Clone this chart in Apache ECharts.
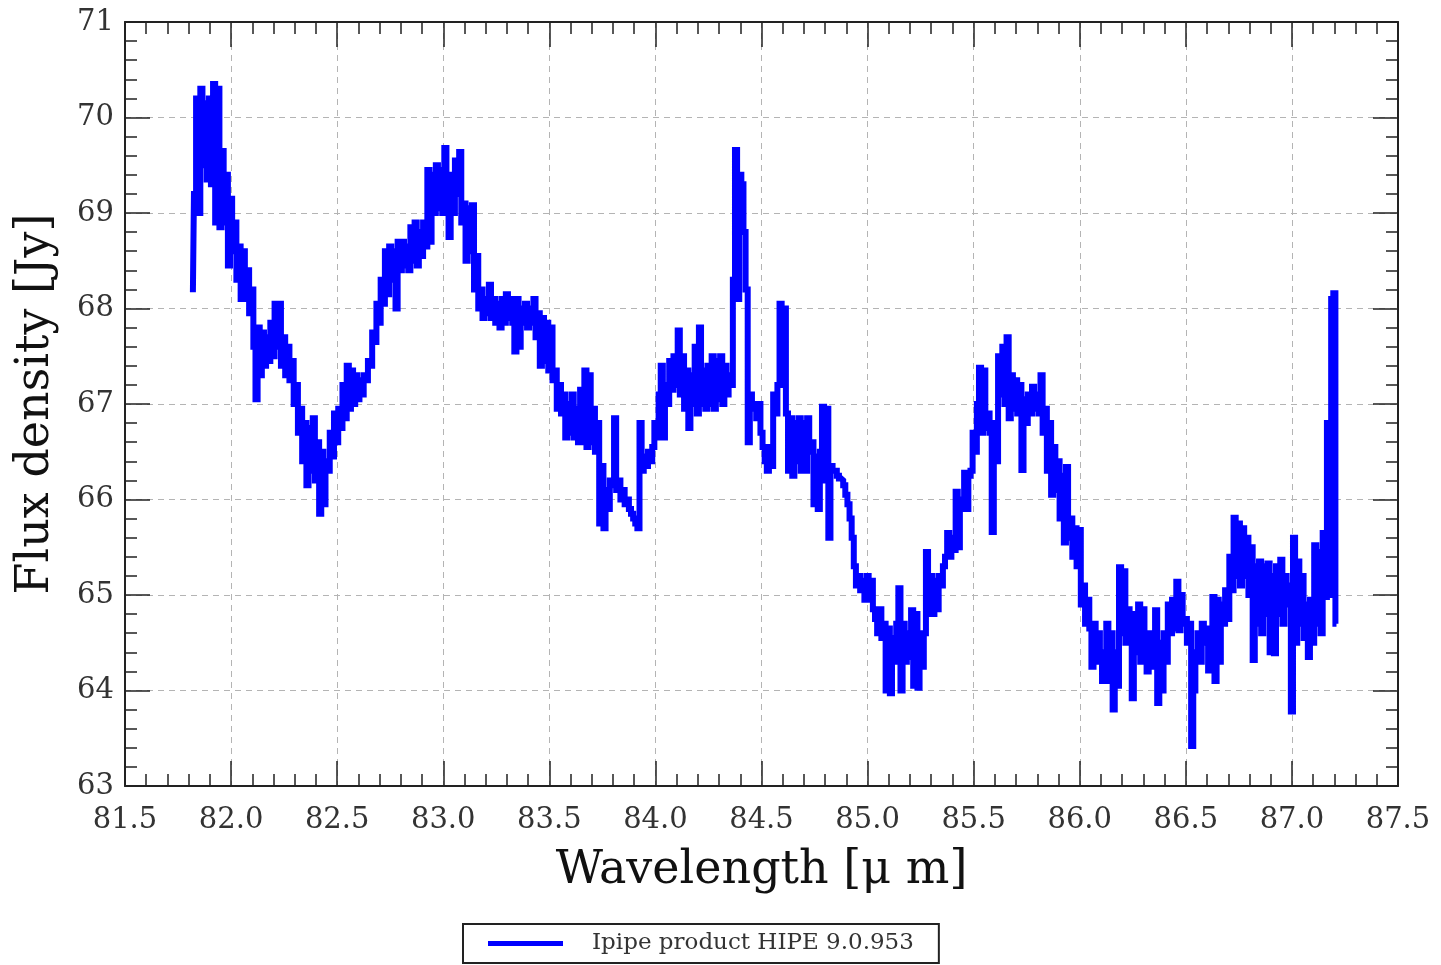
<!DOCTYPE html>
<html>
<head>
<meta charset="utf-8">
<script src="https://cdn.jsdelivr.net/npm/echarts@6/dist/echarts.min.js"></script>
<style>
html,body{margin:0;padding:0;background:#fff;}
#chart{width:1441px;height:965px;}
</style>
</head>
<body>
<div id="chart"></div>
<script>
// ---- data ----
const xTicks = [81.5, 82.0, 82.5, 83.0, 83.5, 84.0, 84.5, 85.0, 85.5, 86.0, 86.5, 87.0, 87.5];
const yTicks = [63, 64, 65, 66, 67, 68, 69, 70, 71];
const seriesName = 'Ipipe product HIPE 9.0.953';

const wavelength = [
81.82,81.83,81.84,81.85,81.86,81.87,81.88,81.89,81.90,81.91,
81.92,81.93,81.94,81.95,81.96,81.97,81.98,81.99,82.00,82.01,
82.02,82.03,82.04,82.05,82.06,82.07,82.08,82.09,82.10,82.11,
82.12,82.13,82.14,82.15,82.16,82.17,82.18,82.19,82.20,82.21,
82.22,82.23,82.24,82.25,82.26,82.27,82.28,82.29,82.30,82.31,
82.32,82.33,82.34,82.35,82.36,82.37,82.38,82.39,82.40,82.41,
82.42,82.43,82.44,82.45,82.46,82.47,82.48,82.49,82.50,82.51,
82.52,82.53,82.54,82.55,82.56,82.57,82.58,82.59,82.60,82.61,
82.62,82.63,82.64,82.65,82.66,82.67,82.68,82.69,82.70,82.71,
82.72,82.73,82.74,82.75,82.76,82.77,82.78,82.79,82.80,82.81,
82.82,82.83,82.84,82.85,82.86,82.87,82.88,82.89,82.90,82.91,
82.92,82.93,82.94,82.95,82.96,82.97,82.98,82.99,83.00,83.01,
83.02,83.03,83.04,83.05,83.06,83.07,83.08,83.09,83.10,83.11,
83.12,83.13,83.14,83.15,83.16,83.17,83.18,83.19,83.20,83.21,
83.22,83.23,83.24,83.25,83.26,83.27,83.28,83.29,83.30,83.31,
83.32,83.33,83.34,83.35,83.36,83.37,83.38,83.39,83.40,83.41,
83.42,83.43,83.44,83.45,83.46,83.47,83.48,83.49,83.50,83.51,
83.52,83.53,83.54,83.55,83.56,83.57,83.58,83.59,83.60,83.61,
83.62,83.63,83.64,83.65,83.66,83.67,83.68,83.69,83.70,83.71,
83.72,83.73,83.74,83.75,83.76,83.77,83.78,83.79,83.80,83.81,
83.82,83.83,83.84,83.85,83.86,83.87,83.88,83.89,83.90,83.91,
83.92,83.93,83.94,83.95,83.96,83.97,83.98,83.99,84.00,84.01,
84.02,84.03,84.04,84.05,84.06,84.07,84.08,84.09,84.10,84.11,
84.12,84.13,84.14,84.15,84.16,84.17,84.18,84.19,84.20,84.21,
84.22,84.23,84.24,84.25,84.26,84.27,84.28,84.29,84.30,84.31,
84.32,84.33,84.34,84.35,84.36,84.37,84.38,84.39,84.40,84.41,
84.42,84.43,84.44,84.45,84.46,84.47,84.48,84.49,84.50,84.51,
84.52,84.53,84.54,84.55,84.56,84.57,84.58,84.59,84.60,84.61,
84.62,84.63,84.64,84.65,84.66,84.67,84.68,84.69,84.70,84.71,
84.72,84.73,84.74,84.75,84.76,84.77,84.78,84.79,84.80,84.81,
84.82,84.83,84.84,84.85,84.86,84.87,84.88,84.89,84.90,84.91,
84.92,84.93,84.94,84.95,84.96,84.97,84.98,84.99,85.00,85.01,
85.02,85.03,85.04,85.05,85.06,85.07,85.08,85.09,85.10,85.11,
85.12,85.13,85.14,85.15,85.16,85.17,85.18,85.19,85.20,85.21,
85.22,85.23,85.24,85.25,85.26,85.27,85.28,85.29,85.30,85.31,
85.32,85.33,85.34,85.35,85.36,85.37,85.38,85.39,85.40,85.41,
85.42,85.43,85.44,85.45,85.46,85.47,85.48,85.49,85.50,85.51,
85.52,85.53,85.54,85.55,85.56,85.57,85.58,85.59,85.60,85.61,
85.62,85.63,85.64,85.65,85.66,85.67,85.68,85.69,85.70,85.71,
85.72,85.73,85.74,85.75,85.76,85.77,85.78,85.79,85.80,85.81,
85.82,85.83,85.84,85.85,85.86,85.87,85.88,85.89,85.90,85.91,
85.92,85.93,85.94,85.95,85.96,85.97,85.98,85.99,86.00,86.01,
86.02,86.03,86.04,86.05,86.06,86.07,86.08,86.09,86.10,86.11,
86.12,86.13,86.14,86.15,86.16,86.17,86.18,86.19,86.20,86.21,
86.22,86.23,86.24,86.25,86.26,86.27,86.28,86.29,86.30,86.31,
86.32,86.33,86.34,86.35,86.36,86.37,86.38,86.39,86.40,86.41,
86.42,86.43,86.44,86.45,86.46,86.47,86.48,86.49,86.50,86.51,
86.52,86.53,86.54,86.55,86.56,86.57,86.58,86.59,86.60,86.61,
86.62,86.63,86.64,86.65,86.66,86.67,86.68,86.69,86.70,86.71,
86.72,86.73,86.74,86.75,86.76,86.77,86.78,86.79,86.80,86.81,
86.82,86.83,86.84,86.85,86.86,86.87,86.88,86.89,86.90,86.91,
86.92,86.93,86.94,86.95,86.96,86.97,86.98,86.99,87.00,87.01,
87.02,87.03,87.04,87.05,87.06,87.07,87.08,87.09,87.10,87.11,
87.12,87.13,87.14,87.15,87.16,87.17,87.18,87.19,87.20,87.21
];

const flux = [
68.17,69.2,70.2,69.0,70.3,69.5,70.15,69.35,70.2,69.3,
70.35,68.9,70.3,68.85,69.65,68.9,69.4,68.45,69.15,68.6,
68.9,68.3,68.65,68.1,68.6,68.1,68.4,67.95,68.2,67.6,
67.05,67.8,67.3,67.75,67.4,67.7,67.45,67.85,67.5,68.05,
67.6,68.05,67.4,67.7,67.3,67.6,67.25,67.45,67.0,67.2,
66.7,66.95,66.4,66.8,66.15,66.75,66.3,66.85,66.2,66.6,
65.85,66.5,65.95,66.4,66.3,66.7,66.45,66.9,66.6,66.95,
66.75,67.2,66.85,67.4,66.95,67.35,67.0,67.3,67.05,67.25,
67.1,67.3,67.25,67.45,67.4,67.75,67.65,68.05,67.85,68.3,
68.05,68.6,68.15,68.65,68.3,68.6,68.0,68.7,68.4,68.7,
68.45,68.65,68.4,68.85,68.5,68.9,68.45,68.8,68.55,68.9,
68.65,69.45,68.7,69.4,69.0,69.5,69.05,69.45,69.0,69.68,
69.1,68.75,69.4,69.0,69.55,69.2,69.64,68.9,69.1,68.5,
69.05,68.6,69.08,68.2,68.55,68.0,68.2,67.9,68.1,67.95,
68.25,67.9,68.1,67.85,68.05,67.8,68.1,67.85,68.15,67.9,
68.1,67.85,67.55,68.1,67.6,68.0,67.85,68.05,67.8,68.0,
67.85,68.1,67.7,67.95,67.4,67.9,67.45,67.85,67.35,67.8,
67.25,67.35,66.95,67.2,66.9,67.1,66.65,67.0,66.7,67.1,
66.65,66.95,66.6,67.15,66.6,67.35,66.55,67.3,66.6,66.95,
66.5,66.8,65.75,66.35,65.7,66.1,65.9,66.2,66.15,66.85,
66.1,66.2,66.0,66.1,65.95,66.0,65.9,65.85,65.8,65.75,
65.7,66.8,66.3,66.45,66.35,66.5,66.4,66.55,66.8,66.65,
67.1,67.4,66.65,67.2,67.0,67.45,67.15,67.5,67.2,67.77,
67.1,67.5,66.95,67.35,66.75,67.3,67.0,67.6,66.9,67.8,
67.0,67.35,66.95,67.4,67.0,67.5,66.95,67.45,67.05,67.5,
67.0,67.4,67.1,67.3,67.2,68.3,69.66,68.1,69.4,69.3,
68.8,68.2,66.6,67.1,66.95,67.0,66.85,67.0,66.7,66.55,
66.4,66.3,66.55,66.35,67.1,66.9,67.2,68.05,67.2,68.0,
66.9,66.3,66.85,66.25,66.8,66.4,66.85,66.3,66.8,66.3,
66.85,66.5,66.6,65.95,66.45,65.9,66.5,66.97,66.2,66.95,
65.6,66.35,66.3,66.3,66.25,66.22,66.2,66.15,66.05,65.95,
65.8,65.6,65.3,65.1,65.2,65.05,65.15,64.95,65.2,64.95,
65.15,64.85,64.75,64.6,64.85,64.55,64.7,64.0,64.65,63.97,
64.55,64.3,64.7,65.07,64.0,64.7,64.3,64.6,64.35,64.84,
64.05,64.8,64.03,64.6,64.25,64.6,65.45,64.8,65.2,64.8,
65.15,64.85,65.2,65.1,65.3,65.4,65.65,65.4,65.6,65.47,
66.08,65.5,66.0,65.9,66.28,65.9,66.25,66.3,66.7,66.5,
67.0,67.38,66.7,67.35,66.75,66.9,66.7,65.66,66.8,66.4,
67.5,67.1,67.6,67.0,67.7,66.85,67.3,66.95,67.25,66.9,
67.2,66.31,67.05,66.8,67.1,66.9,67.18,66.95,67.1,66.9,
67.3,66.7,66.95,66.3,66.8,66.05,66.55,66.1,66.4,65.8,
66.25,65.55,66.34,65.6,65.8,65.4,65.7,65.3,65.68,64.9,
65.1,64.7,64.95,64.65,64.25,64.7,64.3,64.6,64.4,64.1,
64.35,64.7,64.1,64.6,63.8,64.4,64.05,65.29,64.6,65.25,
64.5,64.85,64.5,63.92,64.8,64.4,64.9,64.3,64.85,64.5,
64.2,64.6,64.25,64.55,64.84,63.87,64.5,64.0,64.6,64.3,
64.9,64.6,64.95,64.65,65.14,64.63,65.0,64.7,64.75,64.5,
64.7,63.42,64.0,64.4,64.6,64.3,64.7,64.5,64.65,64.21,
64.6,64.98,64.1,64.95,64.3,64.9,64.7,65.05,64.75,65.4,
65.05,65.81,65.2,65.75,65.1,65.7,65.2,65.6,65.0,65.5,
64.32,65.3,64.7,65.35,64.6,65.3,64.8,65.33,64.4,65.2,
64.39,65.3,64.8,65.37,64.7,65.2,64.9,65.1,63.78,65.6,
64.5,65.35,64.7,65.2,64.55,64.9,64.35,64.95,64.5,65.52,
64.7,65.45,64.6,65.65,64.98,66.8,65.0,68.1,68.16,64.7
];

// ---- chart ----
const FONT = 'DejaVu Serif';
const tickColor = '#222';
const chart = echarts.init(document.getElementById('chart'), null, {renderer: 'canvas'});
const pairs = wavelength.map((w, i) => [w, flux[i]]);

const baseX = {
  type: 'value', min: xTicks[0], max: xTicks[xTicks.length - 1], interval: 0.5,
  axisLine: {show: true, onZero: false, lineStyle: {color: '#222', width: 2}},
  axisTick: {show: true, inside: true, length: 25, lineStyle: {color: tickColor, width: 1.5}},
  minorTick: {show: true, splitNumber: 5, length: 12, lineStyle: {color: tickColor, width: 1.5}},
};
const baseY = {
  type: 'value', min: yTicks[0], max: yTicks[yTicks.length - 1], interval: 1,
  axisLine: {show: true, onZero: false, lineStyle: {color: '#222', width: 2}},
  axisTick: {show: true, inside: true, length: 25, lineStyle: {color: tickColor, width: 1.5}},
  minorTick: {show: true, splitNumber: 5, length: 12, lineStyle: {color: tickColor, width: 1.5}},
};
const gridLine = {show: true, lineStyle: {color: '#b4b4b4', width: 1, type: [6, 5]}};

chart.setOption({
  animation: false,
  backgroundColor: '#fff',
  grid: {left: 125, right: 43, top: 22, bottom: 179, containLabel: false},
  xAxis: [
    Object.assign({}, baseX, {
      position: 'bottom',
      name: 'Wavelength [\u03bc m]', nameLocation: 'middle', nameGap: 62,
      nameTextStyle: {fontFamily: FONT, fontSize: 46, color: '#111'},
      axisLabel: {show: true, margin: 20, fontFamily: FONT, fontSize: 29, color: '#333',
                  formatter: v => v.toFixed(1)},
      splitLine: gridLine
    }),
    Object.assign({}, baseX, {position: 'top', axisLabel: {show: false}, splitLine: {show: false}})
  ],
  yAxis: [
    Object.assign({}, baseY, {
      position: 'left',
      name: 'Flux density [Jy]', nameLocation: 'middle', nameGap: 66,
      nameTextStyle: {fontFamily: FONT, fontSize: 46, color: '#111'},
      axisLabel: {show: true, margin: 11, fontFamily: FONT, fontSize: 29, color: '#333',
                  formatter: v => String(v)},
      splitLine: gridLine
    }),
    Object.assign({}, baseY, {position: 'right', axisLabel: {show: false}, splitLine: {show: false}})
  ],
  legend: {
    show: true, left: 463, top: 924,
    borderColor: '#222', borderWidth: 2, padding: [8, 25, 8, 25],
    icon: 'rect', itemWidth: 75, itemHeight: 5,
    textStyle: {fontFamily: FONT, fontSize: 23, color: '#333', padding: [0, 0, 0, 24]},
    data: [seriesName]
  },
  series: [{
    name: seriesName, type: 'line', xAxisIndex: 0, yAxisIndex: 0,
    data: pairs, showSymbol: false, symbol: 'none', sampling: null, step: 'middle',
    lineStyle: {color: '#0000ff', width: 6, join: 'miter'},
    itemStyle: {color: '#0000ff'}
  }]
});
</script>
</body>
</html>
